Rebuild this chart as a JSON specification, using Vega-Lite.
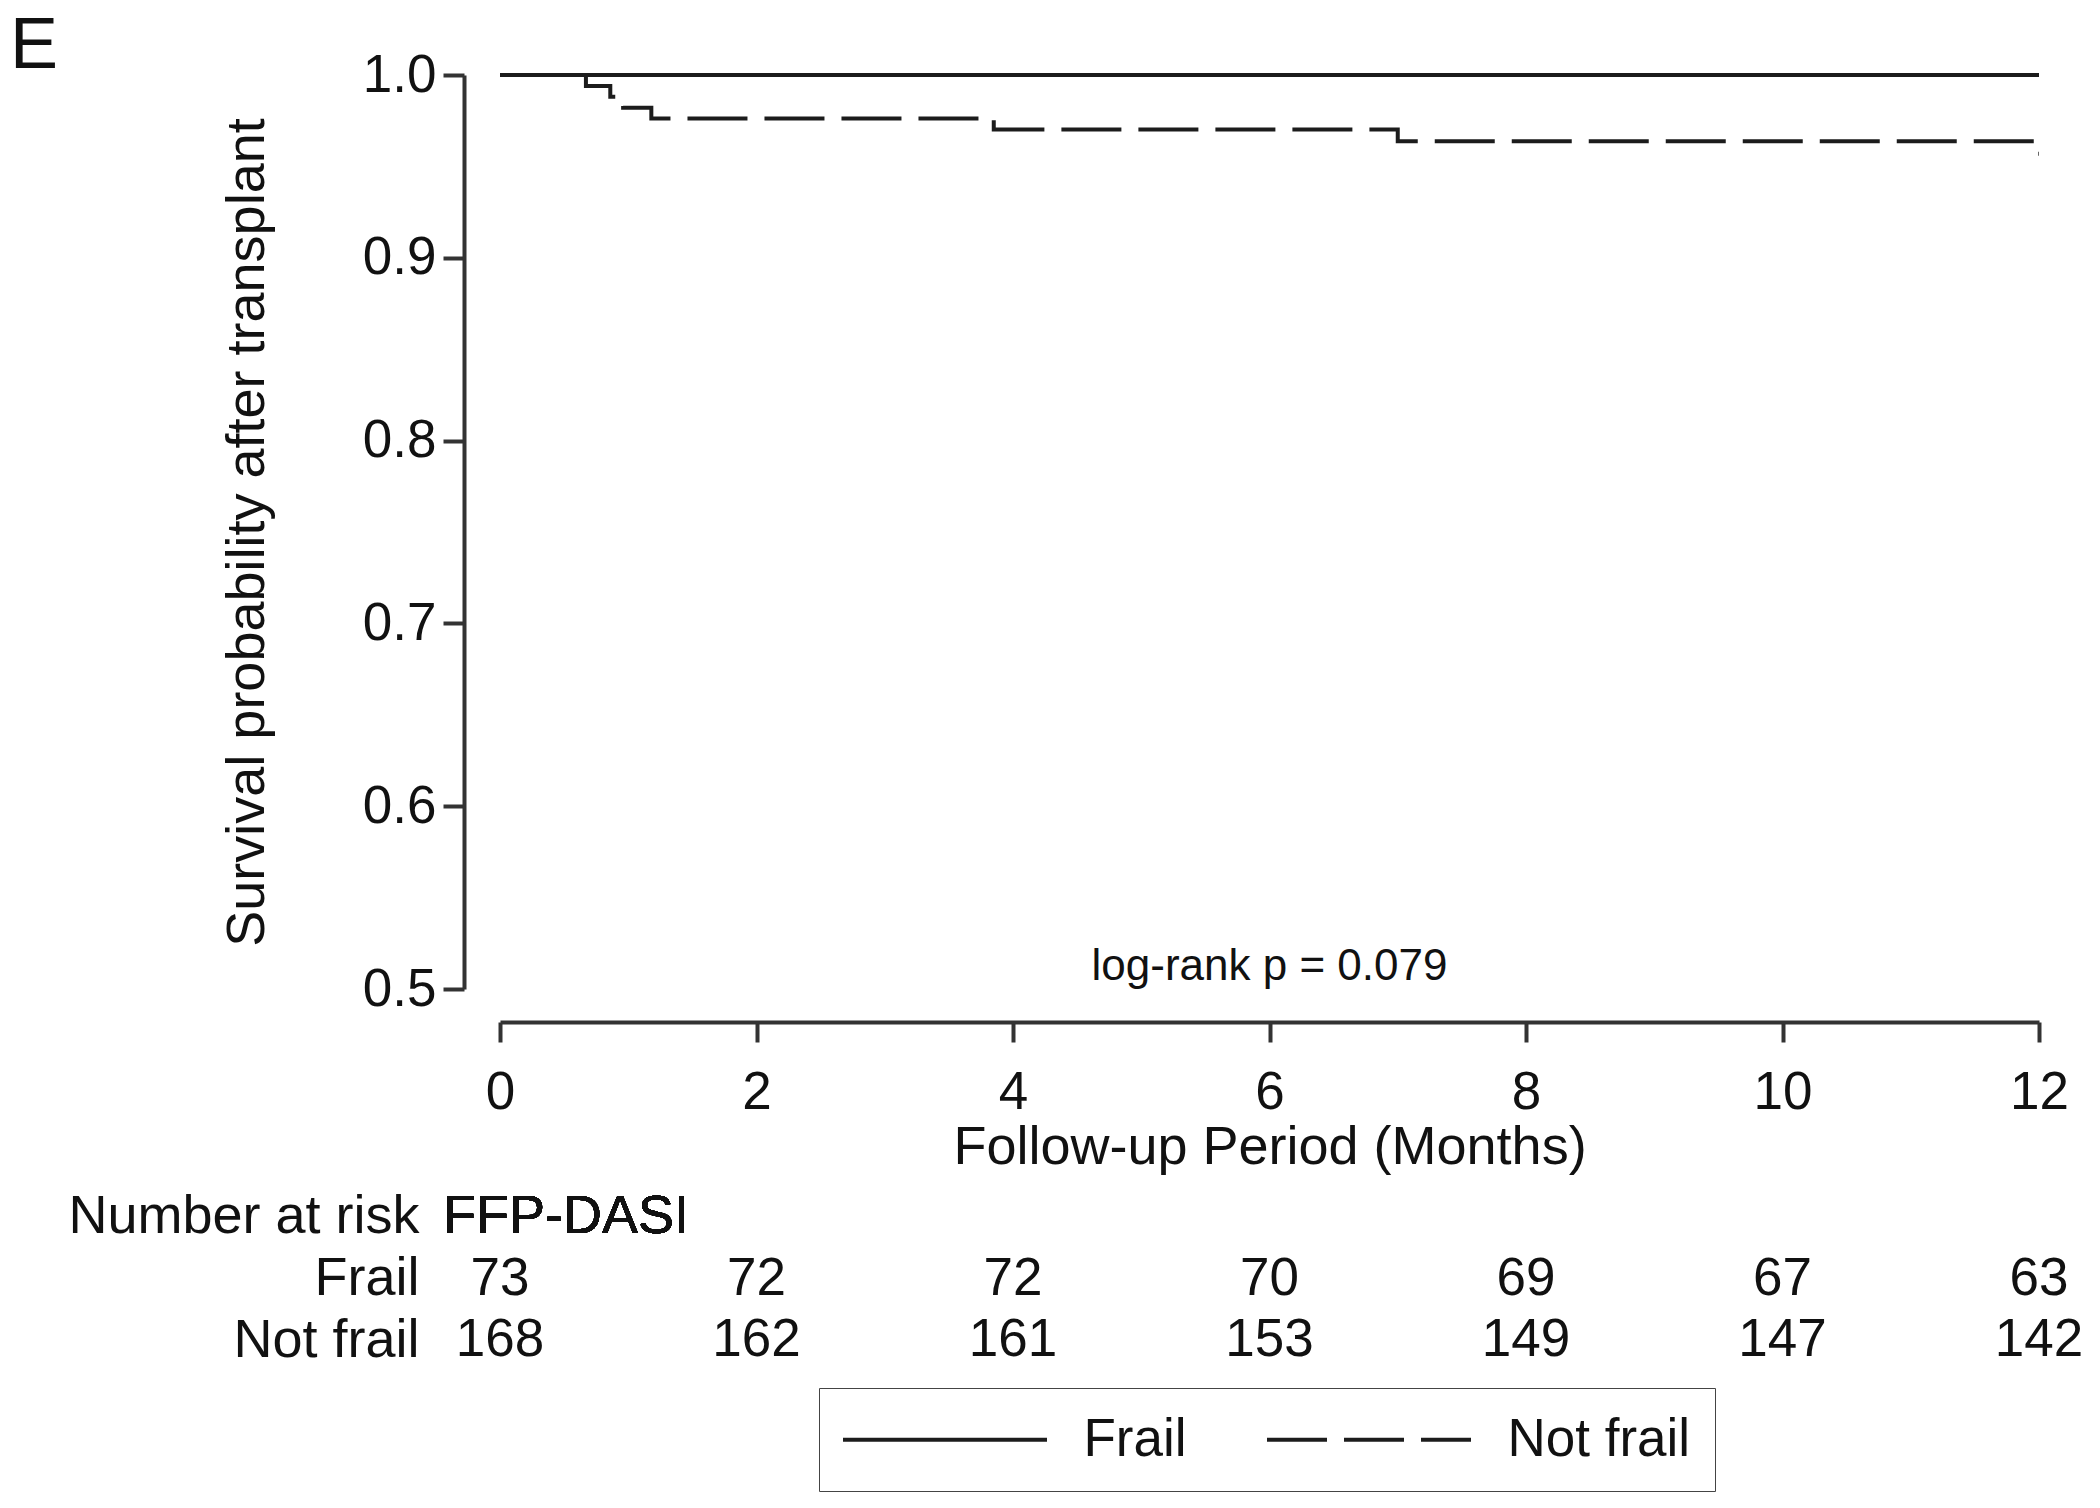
{
  "$schema": "https://vega.github.io/schema/vega-lite/v6.json",
  "padding": {"left": 9, "top": 10, "right": 5, "bottom": 5},
  "background": "white",
  "config": {
    "view": {"stroke": null},
    "font": "Liberation Sans",
    "text": {"font": "Liberation Sans"}
  },
  "title": {
    "text": "E",
    "anchor": "start",
    "frame": "bounds",
    "fontSize": 72,
    "fontWeight": "normal",
    "color": "#111",
    "offset": -34,
    "dx": -58
  },
  "bounds": "flush",
  "spacing": 197,
  "resolve": {"legend": {"strokeDash": "independent"}, "scale": {"strokeDash": "independent", "x": "independent", "y": "independent"}},
  "vconcat": [
    {
      "width": 1539,
      "height": 914,
      "layer": [
        {
          "data": {
            "values": [
              {"group": "Not frail", "month": 0, "surv": 1.0},
              {"group": "Not frail", "month": 0.67, "surv": 0.99405},
              {"group": "Not frail", "month": 0.86, "surv": 0.9881},
              {"group": "Not frail", "month": 0.96, "surv": 0.98214},
              {"group": "Not frail", "month": 1.18, "surv": 0.97619},
              {"group": "Not frail", "month": 3.85, "surv": 0.97013},
              {"group": "Not frail", "month": 7.0, "surv": 0.96376},
              {"group": "Not frail", "month": 11.96, "surv": 0.95697},
              {"group": "Not frail", "month": 12, "surv": 0.95697},
              {"group": "Frail", "month": 0, "surv": 1.0},
              {"group": "Frail", "month": 12, "surv": 1.0}
            ]
          },
          "mark": {"type": "line", "interpolate": "step-after", "strokeWidth": 4, "color": "#1c1c1c"},
          "encoding": {
            "x": {
              "field": "month",
              "type": "quantitative",
              "scale": {"domain": [0, 12], "nice": false, "zero": false},
              "axis": {
                "values": [0, 2, 4, 6, 8, 10, 12],
                "format": "d",
                "offset": 33,
                "tickSize": 20,
                "tickWidth": 4,
                "tickColor": "#333",
                "domainWidth": 4,
                "domainColor": "#333",
                "labelFontSize": 53,
                "labelPadding": 24,
                "labelColor": "#111",
                "labelFlush": false,
                "labelOverlap": false,
                "grid": false,
                "title": "Follow-up Period (Months)",
                "titleFontSize": 54,
                "titleFontWeight": "normal",
                "titleColor": "#111",
                "titlePadding": 1
              }
            },
            "y": {
              "field": "surv",
              "type": "quantitative",
              "scale": {"domain": [0.5, 1.0], "nice": false, "zero": false},
              "axis": {
                "values": [0.5, 0.6, 0.7, 0.8, 0.9, 1.0],
                "format": ".1f",
                "offset": 36,
                "tickSize": 21,
                "tickWidth": 4,
                "tickColor": "#333",
                "domainWidth": 4,
                "domainColor": "#333",
                "labelFontSize": 53,
                "labelPadding": 7,
                "labelColor": "#111",
                "labelFlush": false,
                "labelOverlap": false,
                "grid": false,
                "title": "Survival probability after transplant",
                "titleFontSize": 54,
                "titleFontWeight": "normal",
                "titleColor": "#111",
                "titlePadding": 88
              }
            },
            "strokeDash": {
              "field": "group",
              "type": "nominal",
              "scale": {"domain": ["Frail", "Not frail"], "range": [[1, 0], [60, 17]]},
              "legend": {
                "orient": "none",
                "legendX": 319,
                "legendY": 1313,
                "direction": "horizontal",
                "title": null,
                "symbolType": "M-4,0L4,0",
                "symbolSize": 2601,
                "symbolOffset": 74.5,
                "symbolStrokeWidth": 4,
                "symbolStrokeColor": "#1c1c1c",
                "labelFontSize": 53,
                "labelColor": "#111",
                "labelOffset": 111,
                "labelLimit": 0,
                "columnPadding": 72,
                "padding": 24,
                "strokeColor": "#444"
              }
            }
          }
        },
        {
          "data": {"values": [{}]},
          "mark": {"type": "text", "fontSize": 44, "color": "#111", "align": "center", "baseline": "middle"},
          "encoding": {
            "x": {"datum": 6},
            "y": {"datum": 0.512},
            "text": {"value": "log-rank p = 0.079"}
          }
        }
      ]
    },
    {
      "width": 1539,
      "height": 185,
      "data": {
        "values": [
          {"group": "Frail", "month": 0, "n": 73},
          {"group": "Frail", "month": 2, "n": 72},
          {"group": "Frail", "month": 4, "n": 72},
          {"group": "Frail", "month": 6, "n": 70},
          {"group": "Frail", "month": 8, "n": 69},
          {"group": "Frail", "month": 10, "n": 67},
          {"group": "Frail", "month": 12, "n": 63},
          {"group": "Not frail", "month": 0, "n": 168},
          {"group": "Not frail", "month": 2, "n": 162},
          {"group": "Not frail", "month": 4, "n": 161},
          {"group": "Not frail", "month": 6, "n": 153},
          {"group": "Not frail", "month": 8, "n": 149},
          {"group": "Not frail", "month": 10, "n": 147},
          {"group": "Not frail", "month": 12, "n": 142}
        ]
      },
      "layer": [
        {
          "mark": {"type": "text", "fontSize": 53, "color": "#111", "align": "center", "baseline": "middle"},
          "encoding": {
            "x": {
              "field": "month",
              "type": "quantitative",
              "scale": {"domain": [0, 12], "nice": false, "zero": false},
              "axis": null
            },
            "y": {
              "field": "group",
              "type": "nominal",
              "scale": {"type": "point", "domain": ["Number at risk", "Frail", "Not frail"], "padding": 0.5},
              "axis": {
                "title": null,
                "domain": false,
                "ticks": false,
                "tickSize": 0,
                "labelFontSize": 54,
                "labelColor": "#111",
                "labelPadding": 81,
                "labelLimit": 0
              }
            },
            "text": {"field": "n", "type": "quantitative"}
          }
        },
        {
          "mark": {"type": "text", "fontSize": 54, "color": "#111", "align": "left", "baseline": "middle", "dx": -57},
          "encoding": {
            "x": {"datum": 0},
            "y": {"datum": "Number at risk", "type": "nominal"},
            "text": {"value": "FFP-DASI"}
          }
        }
      ]
    }
  ]
}
